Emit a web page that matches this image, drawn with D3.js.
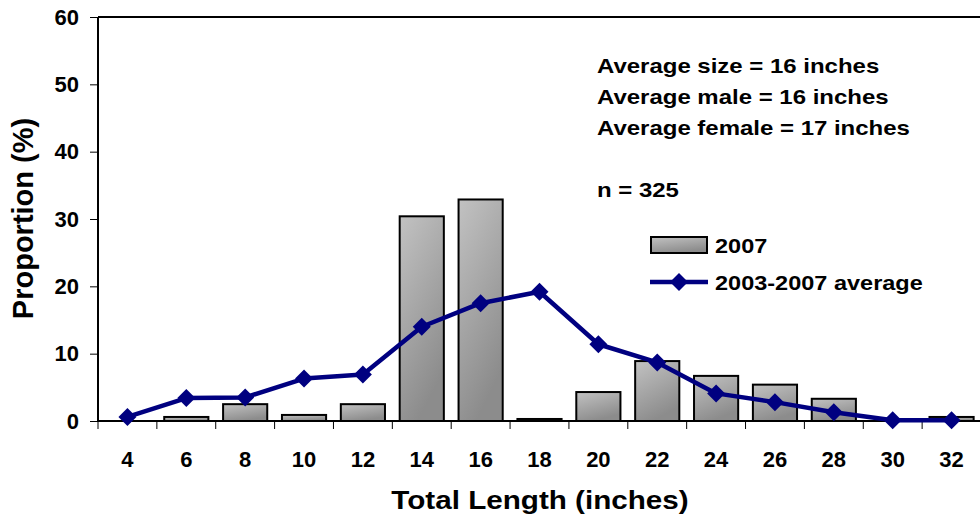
<!DOCTYPE html>
<html><head><meta charset="utf-8">
<script src="https://cdn.jsdelivr.net/npm/d3@7"></script>
<style>body{margin:0;background:#fff}svg{display:block;font-family:"Liberation Sans",Arial,sans-serif;font-weight:bold}</style>
</head><body>
<svg id="c" width="980" height="522"></svg>
<script>
const categories = ["4","6","8","10","12","14","16","18","20","22","24","26","28","30","32"];
const bars2007 = [0, 0.6, 2.5, 0.9, 2.5, 30.4, 32.9, 0.3, 4.3, 8.9, 6.7, 5.4, 3.3, 0, 0.6];
const avg0307 = [0.6, 3.4, 3.5, 6.3, 6.9, 14.0, 17.5, 19.2, 11.4, 8.7, 4.1, 2.8, 1.3, 0.1, 0.1];
const yTicks = [0, 10, 20, 30, 40, 50, 60];
const notes = ["Average size = 16 inches", "Average male = 16 inches", "Average female = 17 inches", "", "n = 325"];
const legendLabels = ["2007", "2003-2007 average"];

const svg = d3.select("#c");
const L = 98, R = 981, T = 17, B = 421;
const x = d3.scaleBand().domain(categories).range([L, R]).paddingInner(0.25).paddingOuter(0.125);
const xb = d3.scaleBand().domain(categories).range([L, R]);
const y = d3.scaleLinear().domain([0, 60]).range([B, T]);

const defs = svg.append("defs");
const g = defs.append("linearGradient").attr("id","bg").attr("x1","0").attr("y1","0").attr("x2","0.4").attr("y2","1");
g.append("stop").attr("offset","0%").attr("stop-color","#c2c2c2");
g.append("stop").attr("offset","100%").attr("stop-color","#8c8c8c");

// bars
svg.append("g").selectAll("rect").data(categories).join("rect")
  .attr("x", d => x(d)).attr("width", x.bandwidth())
  .attr("y", (d,i) => y(bars2007[i])).attr("height", (d,i) => B - y(bars2007[i]))
  .attr("fill","url(#bg)").attr("stroke","#000").attr("stroke-width",2)
  .style("display",(d,i)=>bars2007[i]>0?null:"none");

// top border
svg.append("line").attr("x1",L).attr("x2",R).attr("y1",T).attr("y2",T).attr("stroke","#000").attr("stroke-width",2);

// y axis
const ya = svg.append("g").attr("transform",`translate(${L},0)`)
  .call(d3.axisLeft(y).tickValues(yTicks).tickSize(8).tickPadding(11).tickFormat(d3.format("d")));
ya.select(".domain").attr("stroke","#000").attr("stroke-width",2).attr("d",`M0,${T}V${B}`);
ya.selectAll(".tick line").attr("stroke","#000").attr("stroke-width",1);
ya.selectAll("text").attr("font-size",22).attr("font-weight","bold").attr("font-family","Liberation Sans, Arial, sans-serif").attr("fill","#000");

// x axis
const xa = svg.append("g").attr("transform",`translate(0,${B})`)
  .call(d3.axisBottom(xb).tickSize(0).tickPadding(0));
xa.select(".domain").attr("stroke","#000").attr("stroke-width",2).attr("d",`M${L},0H${R}`);
xa.selectAll("text").attr("dy",null).attr("y",46).attr("font-size",22).attr("font-weight","bold").attr("font-family","Liberation Sans, Arial, sans-serif").attr("fill","#000");
// tick marks between categories
svg.append("g").selectAll("line").data(categories).join("line")
  .attr("x1", d => xb(d)).attr("x2", d => xb(d)).attr("y1", B).attr("y2", B+8)
  .attr("stroke","#000").attr("stroke-width",1);

// line
const cx = (d) => xb(d) + xb.bandwidth()/2;
const line = d3.line().x((d,i)=>cx(categories[i])).y(d=>y(d));
svg.append("path").datum(avg0307).attr("d",line).attr("fill","none").attr("stroke","#000080").attr("stroke-width",4.5).attr("stroke-linejoin","round");
const dia = "M0,-9L9,0L0,9L-9,0Z";
svg.append("g").selectAll("path").data(avg0307).join("path")
  .attr("d", dia).attr("transform",(d,i)=>`translate(${cx(categories[i])},${y(d)})`)
  .attr("fill","#000080");

// axis titles
svg.append("text").attr("transform","translate(540,509) scale(1.14,1)").attr("text-anchor","middle").attr("font-size",26).text("Total Length (inches)");
svg.append("text").attr("transform","translate(33,218.5) rotate(-90)").attr("text-anchor","middle").attr("font-size",29).text("Proportion (%)");

// notes
svg.append("g").selectAll("text").data(notes).join("text")
  .attr("transform",(d,i)=>`translate(597,${73.3+i*30.8}) scale(1.17,1)`).attr("font-size",20.5).text(d=>d);

// legend
const lg = svg.append("g");
lg.append("rect").attr("x",651).attr("y",237).attr("width",56).attr("height",16).attr("fill","url(#bg)").attr("stroke","#000").attr("stroke-width",2);
lg.append("text").attr("transform","translate(715,253.3) scale(1.12,1)").attr("font-size",21).text(legendLabels[0]);
lg.append("line").attr("x1",650).attr("x2",708).attr("y1",282).attr("y2",282).attr("stroke","#000080").attr("stroke-width",4.5);
lg.append("path").attr("d",dia).attr("transform","translate(679,282)").attr("fill","#000080");
lg.append("text").attr("transform","translate(715,290) scale(1.12,1)").attr("font-size",21).text(legendLabels[1]);
</script>
</body></html>
